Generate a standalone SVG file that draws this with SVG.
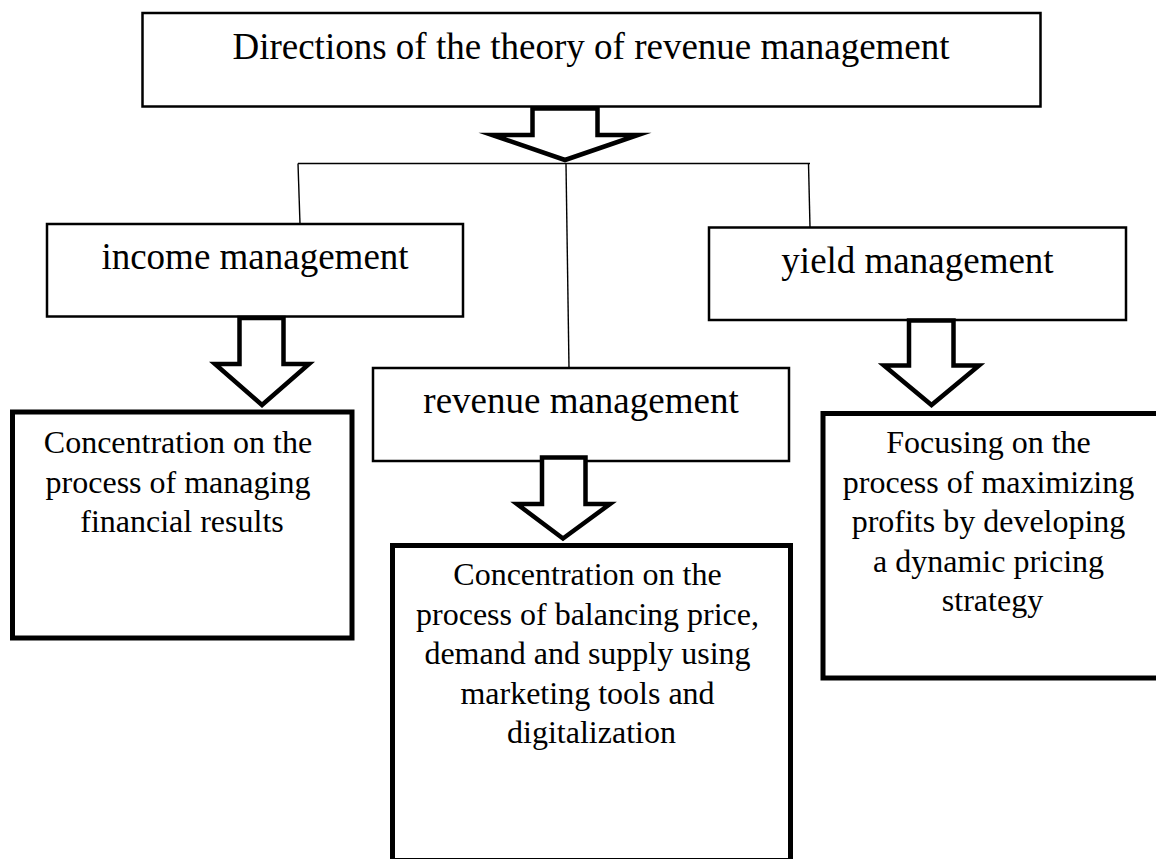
<svg xmlns="http://www.w3.org/2000/svg" width="1156" height="859" viewBox="0 0 1156 859">
  <style>
    .box { fill: #fff; stroke: #000; stroke-width: 2.5; }
    .bold { fill: #fff; stroke: #000; stroke-width: 5; }
    .block { fill: #fff; stroke: #000; stroke-width: 4.5; stroke-linejoin: miter; stroke-miterlimit: 10; }
    .conn { fill: none; stroke: #000; stroke-width: 1.4; }
    text { font-family: "Liberation Serif", "Times New Roman", serif; fill: #000; text-anchor: middle; }
    .h1 { font-size: 37px; }
    .h2 { font-size: 37px; }
    .body { font-size: 32px; }
  </style>
  <rect width="1156" height="859" fill="#fff"/>

  <!-- thin tree lines from the title down to the three directions -->
  <g id="connectors">
    <line class="conn" x1="298" y1="163.5" x2="810" y2="163.5"/>
    <line class="conn" x1="298" y1="163.5" x2="300" y2="224"/>
    <line class="conn" x1="566" y1="164" x2="569" y2="368"/>
    <line class="conn" x1="808.5" y1="163.5" x2="810" y2="227.5"/>
  </g>

  <g id="title">
    <rect class="box" x="142.5" y="13" width="898" height="93.5"/>
    <text class="h1" x="591" y="59">Directions of the theory of revenue management</text>
  </g>

  <g id="income">
    <rect class="box" x="47" y="224" width="416" height="92.5"/>
    <text class="h2" x="255" y="269">income management</text>
  </g>

  <g id="revenue">
    <rect class="box" x="373" y="368" width="416" height="93"/>
    <text class="h2" x="581" y="412.5">revenue management</text>
  </g>

  <g id="yield">
    <rect class="box" x="709" y="227.5" width="417" height="92.5"/>
    <text class="h2" x="917.5" y="272.5">yield management</text>
  </g>

  <g id="income-focus">
    <rect class="bold" x="12.5" y="412" width="339.5" height="226"/>
    <text class="body" x="182">
      <tspan x="182" y="453">Concentration on the</tspan>
      <tspan x="182" y="492.5">process of managing</tspan>
      <tspan x="182" y="532">financial results</tspan>
    </text>
  </g>

  <g id="revenue-focus">
    <rect class="bold" x="392.5" y="545.5" width="398" height="315"/>
    <text class="body" x="591.5">
      <tspan x="591.5" y="585">Concentration on the</tspan>
      <tspan x="591.5" y="624.5">process of balancing price,</tspan>
      <tspan x="591.5" y="664">demand and supply using</tspan>
      <tspan x="591.5" y="703.5">marketing tools and</tspan>
      <tspan x="591.5" y="743">digitalization</tspan>
    </text>
  </g>

  <g id="yield-focus">
    <rect class="bold" x="823" y="413.5" width="340" height="264.5"/>
    <text class="body" x="992.5">
      <tspan x="992.5" y="453">Focusing on the</tspan>
      <tspan x="992.5" y="492.5">process of maximizing</tspan>
      <tspan x="992.5" y="532">profits by developing</tspan>
      <tspan x="992.5" y="571.5">a dynamic pricing</tspan>
      <tspan x="992.5" y="611">strategy</tspan>
    </text>
  </g>

  <!-- hollow block arrows -->
  <g id="block-arrows">
    <polygon class="block" points="532.5,108.5 597.5,108.5 597.5,135 638,135 565,160 492,135 532.5,135"/>
    <polygon class="block" points="239.5,318 283.5,318 283.5,364 309,364 262,405 215,364 239.5,364"/>
    <polygon class="block" points="542,457.5 585.5,457.5 585.5,504 610,504 563,538.5 517,504 542,504"/>
    <polygon class="block" points="909,320.5 953.5,320.5 953.5,365.5 979,365.5 931.5,405 884,365.5 909,365.5"/>
  </g>
</svg>
